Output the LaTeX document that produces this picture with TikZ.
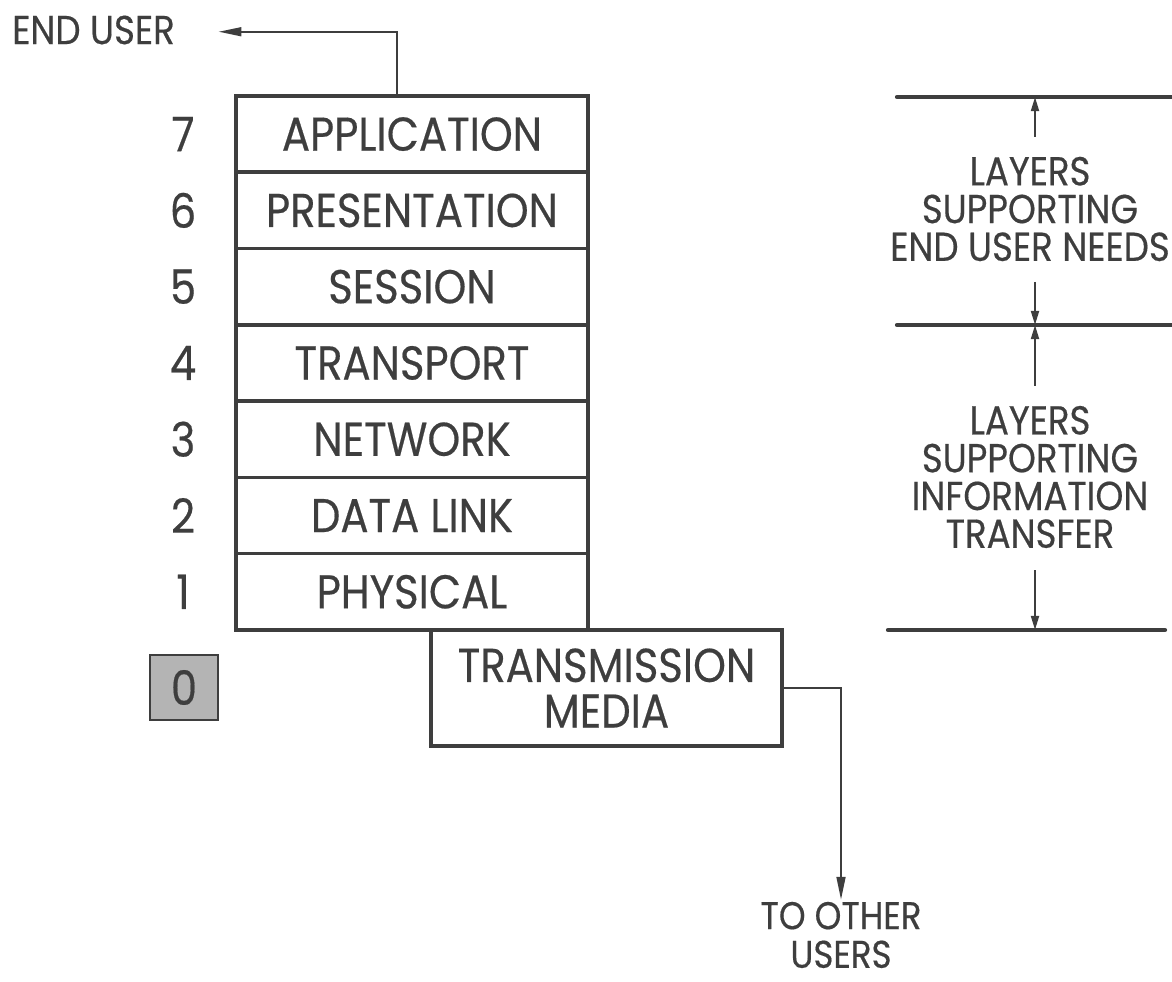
\documentclass[tikz,border=0pt]{standalone}
\usepackage{fontspec}
\setmainfont{Poppins}[FakeStretch=0.88, FakeBold=0.4]
\usetikzlibrary{positioning, arrows.meta}
\definecolor{inkgray}{RGB}{62,62,62}
\definecolor{dotgray}{RGB}{180,180,180}

\begin{document}
\begin{tikzpicture}[x=0.02cm, y=-0.02cm,
  layer/.style={rectangle, draw=inkgray, line width=2pt, minimum width=7.04cm,
    minimum height=1.526cm, inner sep=0pt, outer sep=0pt, text=inkgray,
    font=\fontsize{27}{26}\selectfont, align=center},
  num/.style={text=inkgray, font=\fontsize{27}{26}\selectfont},
  note/.style={text=inkgray, align=center, font=\fontsize{23}{21.5}\selectfont},
  link/.style={-{Triangle[length=13pt, width=5pt]}, line width=1.2pt, draw=inkgray},
  dim/.style={-{Triangle[length=8pt, width=4.5pt]}, line width=1.2pt, draw=inkgray},
  bar/.style={line width=2.4pt, line cap=round, draw=inkgray}
]
  \useasboundingbox (0,0) rectangle (1172,982);

  % the seven layers
  \node[layer] (app) at (412,134.1) {APPLICATION};
  \node[layer, below=0pt of app] (pres) {PRESENTATION};
  \node[layer, below=0pt of pres] (sess) {SESSION};
  \node[layer, below=0pt of sess] (trans) {TRANSPORT};
  \node[layer, below=0pt of trans] (net) {NETWORK};
  \node[layer, below=0pt of net] (link) {DATA LINK};
  \node[layer, below=0pt of link] (phys) {PHYSICAL};
  \node[layer, minimum width=7.02cm, minimum height=2.32cm] (media) at (606.5,688)
    {TRANSMISSION\\MEDIA};

  % layer numbers
  \node[num] (n7) at (app -| 183,0) {7};
  \node[num] (n6) at (pres -| 183,0) {6};
  \node[num] (n5) at (sess -| 183,0) {5};
  \node[num] (n4) at (trans -| 183,0) {4};
  \node[num] (n3) at (net -| 183,0) {3};
  \node[num] (n2) at (link -| 183,0) {2};
  \node[num] (n1) at (phys -| 183,0) {1};
  \node[num, draw=inkgray, fill=dotgray, line width=1pt, minimum width=1.36cm,
    minimum height=1.3cm, inner sep=0pt] (n0) at (184,687.5) {0};

  % end points
  \node[num, anchor=west, font=\fontsize{23}{24}\selectfont] (enduser) at (6,30) {END USER};
  \node[note, inner sep=1pt, font=\fontsize{22}{22}\selectfont] (others) at (841,935)
    {TO OTHER\\USERS};

  \draw[link] (app.north -| 397,0) |- ([xshift=7.5mm, yshift=-1pt]enduser.east);
  \draw[link] (media.east) -| (others.north);

  % layer groups on the right
  \coordinate (top) at (897,97);
  \coordinate (mid) at (897,325);
  \coordinate (bot) at (888,630);
  \draw[bar] (top) -- ++(275,0);
  \draw[bar] (mid) -- ++(275,0);
  \draw[bar] (bot) -- ++(277,0);

  \node[note] (needs) at (1030,209) {LAYERS\\SUPPORTING\\END USER NEEDS};
  \node[note] (transfer) at (1030,477) {LAYERS\\SUPPORTING\\INFORMATION\\TRANSFER};

  \draw[dim] (1035,137) -- (top -| 1035,0);
  \draw[dim] (1035,282) -- (mid -| 1035,0);
  \draw[dim] (1035,386) -- (mid -| 1035,0);
  \draw[dim] (1035,570) -- (bot -| 1035,0);
\end{tikzpicture}
\end{document}
